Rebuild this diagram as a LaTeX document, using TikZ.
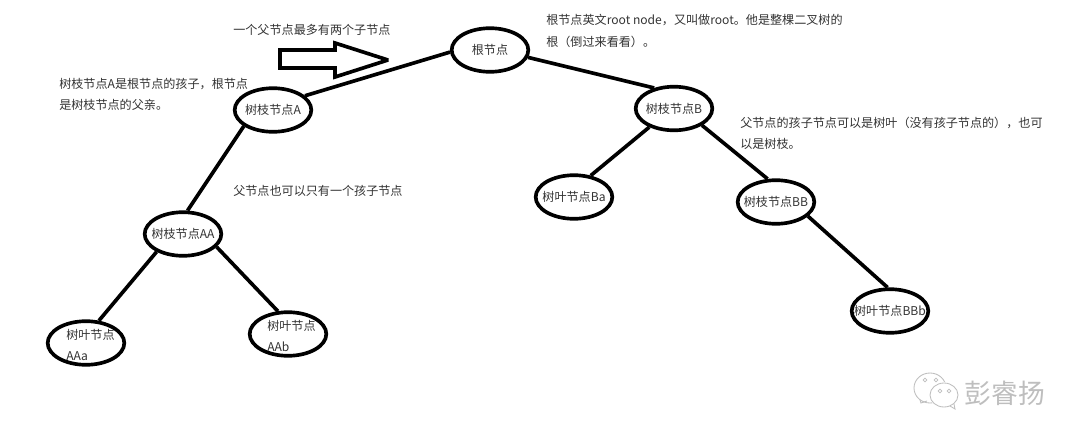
\documentclass[tikz,border=0pt]{standalone}
\usepackage{fontspec}
\setmainfont{Noto Sans CJK SC}
\usetikzlibrary{shapes.geometric}
\definecolor{textgray}{HTML}{333333}
\definecolor{logogray}{HTML}{BEBEBE}
\newcommand{\nodetext}[1]{\makebox[0pt]{#1}}
\tikzset{
    treenode/.style={draw=black, line width=2.6pt, ellipse, inner sep=0pt, minimum width=54.5pt, minimum height=31pt, text=textgray, font=\fontsize{8.6pt}{10pt}\selectfont, align=center},
    treeedge/.style={line width=2.6pt, black},
    remark/.style={anchor=west, inner sep=0pt, text=textgray, font=\fontsize{8.6pt}{15pt}\selectfont, align=left},
}
\begin{document}
\begin{tikzpicture}[x=0.025cm, y=-0.025cm]
    \useasboundingbox (0,0) rectangle (1080,441);
    \fill[white] (0,0) rectangle (1080,441);
    % Tree nodes
    \node[treenode] (root) at (490,50) {\nodetext{根节点}};
    \node[treenode] (brancha) at (273,110) {\nodetext{树枝节点A}};
    \node[treenode] (branchb) at (674,108.5) {\nodetext{树枝节点B}};
    \node[treenode] (branchaa) at (183,234) {\nodetext{树枝节点AA}};
    \node[treenode] (leafba) at (574,197) {\nodetext{树叶节点Ba}};
    \node[treenode] (branchbb) at (776,202) {\nodetext{树枝节点BB}};
    \node[treenode] (leafaaa) at (86,343) {};
    \node[treenode] (leafaab) at (288,334) {};
    \node[treenode] (leafbbb) at (890,311) {\nodetext{树叶节点BBb}};
    % Leaf labels set by hand
    \node[remark] (textaaa) at (66,335) {树叶节点};
    \node[remark] (textaaa2) at (66,356) {AAa};
    \node[remark] (textaab) at (267,326) {树叶节点};
    \node[remark] (textaab2) at (267,347) {AAb};
    % Edges
    \draw[treeedge] (root.183) -- (brancha.24);
    \draw[treeedge] (root.-11) -- (branchb.134);
    \draw[treeedge] (brancha.209) -- (branchaa.79);
    \draw[treeedge] (branchaa.214) -- (leafaaa.60);
    \draw[treeedge] (branchaa.-21) -- (leafaab.114);
    \draw[treeedge] (branchb.217) -- (leafba.52);
    \draw[treeedge] (branchb.-31) -- (branchbb.110);
    \draw[treeedge] (branchbb.-24) -- (leafbbb.96);
    % Big arrow
    \draw[black, line width=2.6pt, miter limit=3] (280,50) -- (335,50) -- (335,43) -- (388,60) -- (335,77) -- (335,68) -- (280,68) -- cycle;
    % Remarks
    \node[remark] (noteparent) at (233,30) {一个父节点最多有两个子节点};
    \node[remark] (noteroot) at (546,31) {根节点英文root node，又叫做root。他是整棵二叉树的\\根（倒过来看看）。};
    \node[remark] (notea) at (59,94) {树枝节点A是根节点的孩子，根节点\\是树枝节点的父亲。};
    \node[remark] (noteleaf) at (740,133) {父节点的孩子节点可以是树叶（没有孩子节点的），也可\\以是树枝。};
    \node[remark] (noteone) at (233,191) {父节点也可以只有一个孩子节点};
    % Watermark
    \draw[logogray, line width=0.6pt] (930,388) ellipse (16 and 15);
    \fill[white] (944,395) ellipse (15 and 13);
    \draw[logogray, line width=0.6pt] (944,395) ellipse (14 and 12);
    \draw[logogray, line width=0.6pt] (920,400) -- (921,403) -- (927,401);
    \draw[logogray, line width=0.6pt] (950,406) -- (955,409) -- (954,404);
    \draw[logogray, line width=0.5pt] (925,380) circle (1.8) (936,380) circle (1.8) (940,391) circle (1.8) (949,391) circle (1.8);
    \node[inner sep=0pt, text=logogray, font=\fontsize{19pt}{20pt}\selectfont] (logotext) at (1005,393) {彭睿扬};
\end{tikzpicture}
\end{document}
